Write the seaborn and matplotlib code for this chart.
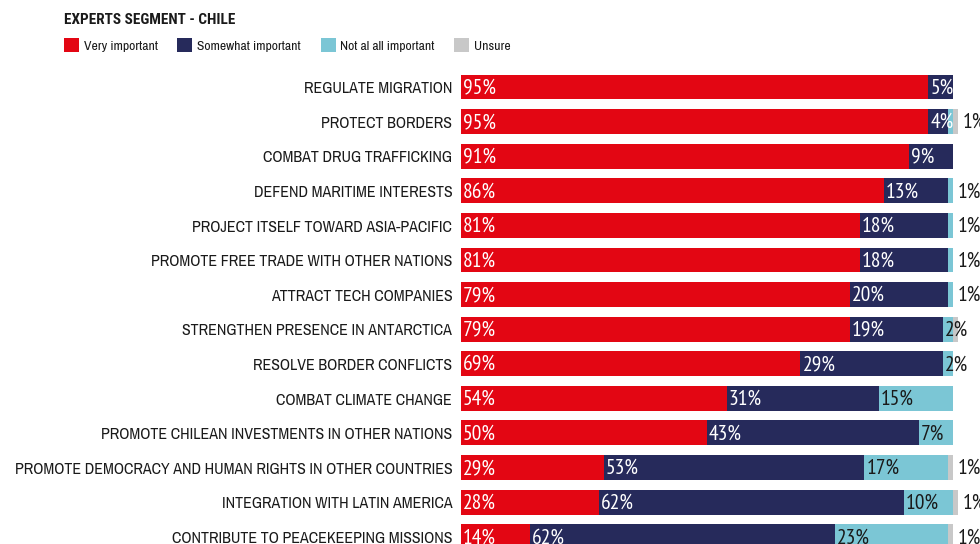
import matplotlib
matplotlib.use("Agg")
import matplotlib.pyplot as plt
from matplotlib import font_manager
from matplotlib.patches import Patch
import seaborn as sns
import pandas as pd
import numpy as np

# Survey results (percent of respondents)
categories = [
    "REGULATE MIGRATION",
    "PROTECT BORDERS",
    "COMBAT DRUG TRAFFICKING",
    "DEFEND MARITIME INTERESTS",
    "PROJECT ITSELF TOWARD ASIA-PACIFIC",
    "PROMOTE FREE TRADE WITH OTHER NATIONS",
    "ATTRACT TECH COMPANIES",
    "STRENGTHEN PRESENCE IN ANTARCTICA",
    "RESOLVE BORDER CONFLICTS",
    "COMBAT CLIMATE CHANGE",
    "PROMOTE CHILEAN INVESTMENTS IN OTHER NATIONS",
    "PROMOTE DEMOCRACY AND HUMAN RIGHTS IN OTHER COUNTRIES",
    "INTEGRATION WITH LATIN AMERICA",
    "CONTRIBUTE TO PEACEKEEPING MISSIONS",
]
very_important = [95, 95, 91, 86, 81, 81, 79, 79, 69, 54, 50, 29, 28, 14]
somewhat_important = [5, 4, 9, 13, 18, 18, 20, 19, 29, 31, 43, 53, 62, 62]
not_important = [0, 1, 0, 1, 1, 1, 1, 2, 2, 15, 7, 17, 10, 23]
unsure = [0, 1, 0, 0, 0, 0, 0, 1, 0, 0, 0, 1, 1, 1]
# small shares written to the right of the bar (row index -> value)
outside_labels = {1: 1, 3: 1, 4: 1, 5: 1, 6: 1, 11: 1, 12: 1, 13: 1}

series_names = ["Very important", "Somewhat important", "Not al all important", "Unsure"]
colors = ["#E30613", "#262A5B", "#7BC6D5", "#C8C8C8"]
text_colors = ["white", "white", "#1a1a1a", "#1a1a1a"]

sns.set_theme(style="white")

fonts = font_manager.fontManager.ttflist
available = {f.name for f in fonts}


def pick(*names):
    for n in names:
        if n in available:
            return n
    return "DejaVu Sans"


def pick_bold(*names):
    for n in names:
        if any(f.name == n and f.weight in (600, 700, 800, "bold", "semibold") for f in fonts):
            return n
    return "DejaVu Sans"


label_font = pick("Liberation Sans Narrow", "Archivo Narrow", "Roboto Condensed", "PT Sans Narrow")
value_font = pick("PT Sans Narrow", "Fira Sans Condensed", "Roboto Condensed", "Archivo Narrow")
title_font = pick_bold("Liberation Sans Narrow", "Archivo Narrow", "Roboto Condensed",
                       "PT Sans Narrow", "Fira Sans Condensed", "Liberation Sans")
plt.rcParams["font.family"] = [label_font, "DejaVu Sans"]

W, H = 980, 544
fig = plt.figure(figsize=(W / 100, H / 100), dpi=100)
ax = fig.add_axes([461 / W, 0, 492 / W, (H - 60) / H])

values = np.array([very_important, somewhat_important, not_important, unsure], dtype=float)
cum = np.cumsum(values, axis=0)

# stacked bars: draw cumulative totals from the widest layer down
for k in range(3, -1, -1):
    df = pd.DataFrame({"category": categories, "value": cum[k]})
    sns.barplot(data=df, y="category", x="value", order=categories, color=colors[k],
                saturation=1, width=0.72, orient="h", ax=ax, linewidth=0)

ax.set_xlim(0, 100)
ax.set_ylim(13.21, -0.78)
ax.set_axis_off()
for p in ax.patches:
    p.set_clip_on(False)

# percentage labels inside the segments
for k in range(4):
    for i in range(len(categories)):
        v = values[k, i]
        if v >= 2:
            start = cum[k, i] - v
            ax.text(start + 0.4, i + 0.03, f"{int(v)}%", color=text_colors[k], fontsize=15.5,
                    family=[value_font, "DejaVu Sans"], ha="left", va="center", clip_on=False)

for i, v in outside_labels.items():
    total = cum[3, i]
    ax.text(total + 0.9, i + 0.03, f"{v}%", color="#1a1a1a", fontsize=15.5,
            family=[value_font, "DejaVu Sans"], ha="left", va="center", clip_on=False)

# category names to the left of the bars
for i, c in enumerate(categories):
    ax.text(-1.8, i + 0.05, c, color="#1a1a1a", fontsize=11.5, ha="right", va="center",
            clip_on=False)

fig.text(64 / W, 1 - 19.5 / H, "EXPERTS SEGMENT - CHILE", fontsize=11, fontweight="bold",
         family=[title_font, "DejaVu Sans"], color="#1a1a1a", ha="left", va="center")

handles = [Patch(facecolor=c, edgecolor="none") for c in colors]
fig.legend(handles, series_names, loc="center left", bbox_to_anchor=(64 / W, 1 - 45 / H),
           ncol=4, frameon=False, fontsize=9.8, handlelength=1.1, handleheight=1.15,
           handletextpad=0.35, columnspacing=1.45, borderpad=0, borderaxespad=0,
           labelcolor="#1a1a1a")

fig.savefig("out.png", dpi=100)
